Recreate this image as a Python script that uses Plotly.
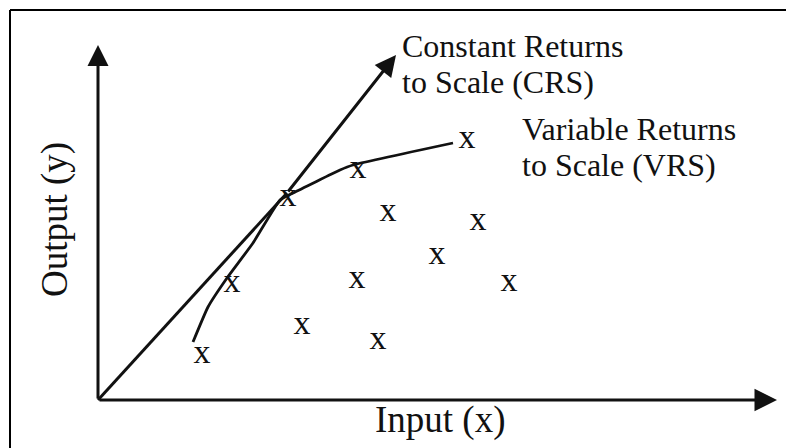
import plotly.graph_objects as go

# ---- data (in diagram units) ----
obs_x = [10.4, 13.4, 19.0, 26.0, 36.9, 29.0, 38.0, 33.9, 25.9, 41.1, 20.4, 28.0]
obs_y = [4.6, 11.7, 20.3, 23.1, 26.1, 18.8, 17.9, 14.5, 12.1, 11.8, 7.5, 6.0]

vrs_x = [9.5, 11.0, 12.9, 15.5, 18.2, 19.5, 24.2, 25.5, 35.5]
vrs_y = [5.8, 9.3, 12.2, 15.7, 20.0, 20.7, 23.0, 23.5, 25.7]

crs_x = [0.0, 18.9, 29.8]
crs_y = [0.0, 20.7, 34.5]

axis_x_end = 67.9
axis_y_end = 35.5

labels = {
    "crs1": ("Constant Returns", 30.2, 35.4),
    "crs2": ("to Scale (CRS)", 30.2, 31.8),
    "vrs1": ("Variable Returns", 42.2, 27.1),
    "vrs2": ("to Scale (VRS)", 42.2, 23.5),
}
xlabel = ("Input (x)", 34.2, -2.0)
ylabel = ("Output (y)", -4.3, 18.0)

FONT = "Liberation Serif, Times New Roman, serif"
INK = "#111111"

fig = go.Figure()

# CRS line (first part; arrow for the rest)
fig.add_trace(go.Scatter(x=crs_x[:2], y=crs_y[:2], mode="lines",
                         line=dict(color=INK, width=3), hoverinfo="skip"))
# VRS frontier
fig.add_trace(go.Scatter(x=vrs_x, y=vrs_y, mode="lines",
                         line=dict(color=INK, width=2.8, shape="spline", smoothing=0.4),
                         hoverinfo="skip"))
# observations
fig.add_trace(go.Scatter(x=obs_x, y=obs_y, mode="text", text=["x"] * len(obs_x),
                         textposition="middle center",
                         textfont=dict(family=FONT, size=34, color=INK),
                         hoverinfo="skip"))

annotations = []
# axes arrows
annotations.append(dict(x=axis_x_end, y=0, ax=0, ay=0, xref="x", yref="y",
                        axref="x", ayref="y", text="", showarrow=True,
                        arrowhead=2, arrowsize=1.5, arrowwidth=3, arrowcolor=INK))
annotations.append(dict(x=0, y=axis_y_end, ax=0, ay=0, xref="x", yref="y",
                        axref="x", ayref="y", text="", showarrow=True,
                        arrowhead=2, arrowsize=1.4, arrowwidth=3, arrowcolor=INK))
# CRS arrow
annotations.append(dict(x=crs_x[2], y=crs_y[2], ax=crs_x[1], ay=crs_y[1], xref="x", yref="y",
                        axref="x", ayref="y", text="", showarrow=True,
                        arrowhead=2, arrowsize=1.4, arrowwidth=3, arrowcolor=INK))

for key, (t, lx, ly) in labels.items():
    annotations.append(dict(x=lx, y=ly, xref="x", yref="y", text=t, showarrow=False,
                            xanchor="left", yanchor="middle",
                            font=dict(family=FONT, size=32, color=INK)))

annotations.append(dict(x=xlabel[1], y=xlabel[2], xref="x", yref="y", text=xlabel[0],
                        showarrow=False, xanchor="center", yanchor="middle",
                        font=dict(family=FONT, size=37, color=INK)))
annotations.append(dict(x=ylabel[1], y=ylabel[2], xref="x", yref="y", text=ylabel[0],
                        showarrow=False, xanchor="center", yanchor="middle", textangle=-90,
                        font=dict(family=FONT, size=37, color=INK)))

W, H = 786, 448
shapes = [
    dict(type="line", xref="paper", yref="paper", x0=10 / W, x1=1.0,
         y0=1 - 10 / H, y1=1 - 10 / H, line=dict(color="black", width=2)),
    dict(type="line", xref="paper", yref="paper", x0=10 / W, x1=10 / W,
         y0=0.0, y1=1 - 10 / H, line=dict(color="black", width=2)),
]

fig.update_layout(
    width=W, height=H, autosize=False,
    margin=dict(l=0, r=0, t=0, b=0),
    paper_bgcolor="white", plot_bgcolor="white",
    showlegend=False,
    annotations=annotations, shapes=shapes,
    xaxis=dict(range=[-9.8, 68.8], visible=False, fixedrange=True),
    yaxis=dict(range=[-4.8, 40.0], visible=False, fixedrange=True),
)

fig.write_html(
    "out.html",
    config={"displayModeBar": False},
    post_script="document.body.style.margin='0';document.body.style.overflow='hidden';",
)
